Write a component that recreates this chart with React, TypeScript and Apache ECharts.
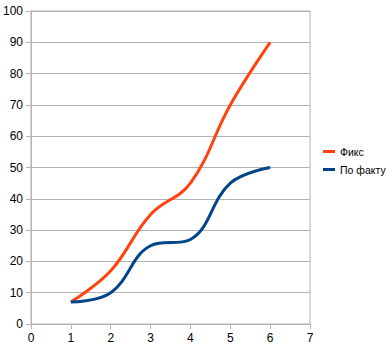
import React, { useEffect, useRef } from "react";
import * as echarts from "echarts";

const xValues = [1, 2, 3, 4, 5, 6];
const fiksValues = [7, 17, 35, 45, 70, 90];
const faktValues = [7, 10, 25, 27, 45, 50];
const seriesNames = ["Фикс", "По факту"];

export default function App() {
  const ref = useRef<HTMLDivElement>(null);
  useEffect(() => {
    const chart = echarts.init(ref.current!, null, { renderer: "svg" });
    const font = "'Liberation Sans', Arial, sans-serif";
    const gridColor = "#b3b3b3";
    chart.setOption({
      animation: false,
      grid: {
        left: 27,
        right: 76,
        top: 11,
        bottom: 30,
        show: true,
        borderColor: gridColor,
        borderWidth: 1,
      },
      legend: {
        orient: "vertical",
        left: 323,
        top: 146,
        padding: 0,
        itemWidth: 12,
        itemHeight: 3,
        itemGap: 7,
        icon: "rect",
        textStyle: { fontFamily: font, fontSize: 10.5, color: "#000" },
        data: seriesNames,
      },
      xAxis: {
        type: "value",
        min: 0,
        max: 7,
        interval: 1,
        axisLine: { show: true, lineStyle: { color: gridColor } },
        axisTick: { show: true, length: 5, lineStyle: { color: gridColor } },
        axisLabel: { fontFamily: font, fontSize: 12, color: "#000", margin: 8 },
        splitLine: { show: false },
      },
      yAxis: {
        type: "value",
        min: 0,
        max: 100,
        interval: 10,
        axisLine: { show: true, lineStyle: { color: gridColor } },
        axisTick: { show: true, length: 5, lineStyle: { color: gridColor } },
        axisLabel: { fontFamily: font, fontSize: 12, color: "#000", margin: 8 },
        splitLine: { show: true, lineStyle: { color: gridColor } },
      },
      series: [
        {
          name: seriesNames[0],
          type: "line",
          smooth: 0.4,
          showSymbol: false,
          symbol: "none",
          color: "#ff420e",
          lineStyle: { width: 3, color: "#ff420e" },
          data: xValues.map((x, i) => [x, fiksValues[i]]),
        },
        {
          name: seriesNames[1],
          type: "line",
          smooth: 0.4,
          showSymbol: false,
          symbol: "none",
          color: "#004586",
          lineStyle: { width: 3, color: "#004586" },
          data: xValues.map((x, i) => [x, faktValues[i]]),
        },
      ],
    });
    return () => chart.dispose();
  }, []);
  return <div ref={ref} style={{ width: 386, height: 354, position: "absolute", left: 0, top: 0 }} />;
}
